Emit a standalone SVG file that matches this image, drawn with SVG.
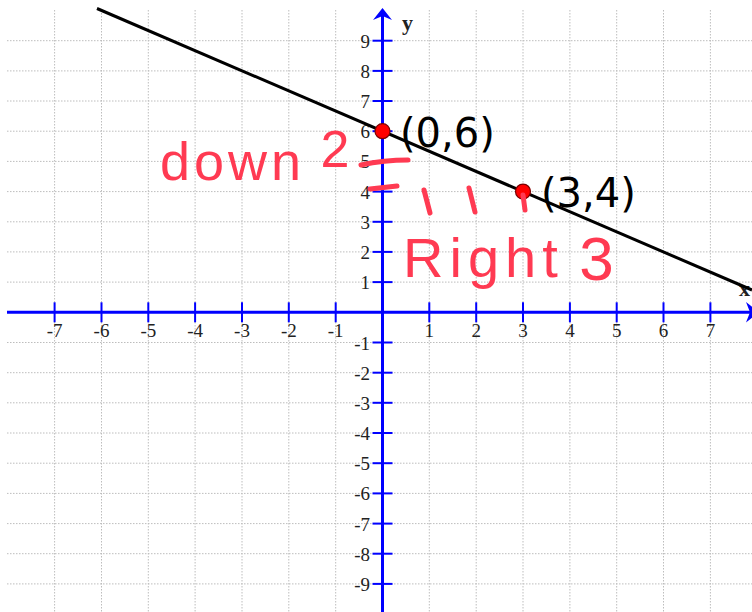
<svg xmlns="http://www.w3.org/2000/svg" width="752" height="612" viewBox="0 0 752 612">
<style>
.grid line{stroke:#bdbdbd;stroke-width:1;stroke-dasharray:1.5 1.5}
.axis{stroke:#0000ff;stroke-width:3;fill:none}
.tick{stroke:#0000ff;stroke-width:2}
.num{font-family:"Liberation Serif",serif;font-size:19px;fill:#222}
.xl{text-anchor:middle}
.yl{text-anchor:end}
.axl{font-family:"Liberation Serif",serif;font-size:22px;font-weight:bold;fill:#222}
.pt{fill:#ff0000;stroke:#7a0000;stroke-width:1.2}
.ptl{font-family:"DejaVu Sans",sans-serif;font-size:40px;fill:#000}
.hand{font-family:"Liberation Sans",sans-serif;fill:#ff3a52}
.mark{stroke:#ff3a52;stroke-width:5;stroke-linecap:round;fill:none}
</style>
<rect width="752" height="612" fill="#fff"/>
<g id="grid" class="grid">
<line x1="54.6" y1="10" x2="54.6" y2="612"/>
<line x1="101.5" y1="10" x2="101.5" y2="612"/>
<line x1="148.3" y1="10" x2="148.3" y2="612"/>
<line x1="195.1" y1="10" x2="195.1" y2="612"/>
<line x1="242" y1="10" x2="242" y2="612"/>
<line x1="288.8" y1="10" x2="288.8" y2="612"/>
<line x1="335.7" y1="10" x2="335.7" y2="612"/>
<line x1="429.3" y1="10" x2="429.3" y2="612"/>
<line x1="476.2" y1="10" x2="476.2" y2="612"/>
<line x1="523" y1="10" x2="523" y2="612"/>
<line x1="569.9" y1="10" x2="569.9" y2="612"/>
<line x1="616.7" y1="10" x2="616.7" y2="612"/>
<line x1="663.5" y1="10" x2="663.5" y2="612"/>
<line x1="710.4" y1="10" x2="710.4" y2="612"/>
<line x1="7" y1="40.7" x2="752" y2="40.7"/>
<line x1="7" y1="70.9" x2="752" y2="70.9"/>
<line x1="7" y1="101" x2="752" y2="101"/>
<line x1="7" y1="131.2" x2="752" y2="131.2"/>
<line x1="7" y1="161.4" x2="752" y2="161.4"/>
<line x1="7" y1="191.6" x2="752" y2="191.6"/>
<line x1="7" y1="221.8" x2="752" y2="221.8"/>
<line x1="7" y1="251.9" x2="752" y2="251.9"/>
<line x1="7" y1="282.1" x2="752" y2="282.1"/>
<line x1="7" y1="342.5" x2="752" y2="342.5"/>
<line x1="7" y1="372.7" x2="752" y2="372.7"/>
<line x1="7" y1="402.8" x2="752" y2="402.8"/>
<line x1="7" y1="433" x2="752" y2="433"/>
<line x1="7" y1="463.2" x2="752" y2="463.2"/>
<line x1="7" y1="493.4" x2="752" y2="493.4"/>
<line x1="7" y1="523.6" x2="752" y2="523.6"/>
<line x1="7" y1="553.7" x2="752" y2="553.7"/>
<line x1="7" y1="583.9" x2="752" y2="583.9"/>
</g>
<g id="axes">
<line class="axis" x1="7" y1="312.3" x2="750" y2="312.3"/>
<path d="M759,312.3 L746,302 L750,312.3 L746,322.6 Z" fill="#0000ff"/>
<line class="axis" x1="382.5" y1="612" x2="382.5" y2="16"/>
<path d="M382.5,8 L392,20 L382.5,16 L373,20 Z" fill="#0000ff"/>
<g class="tick">
<line x1="54.6" y1="302.3" x2="54.6" y2="322.3"/>
<line x1="101.5" y1="302.3" x2="101.5" y2="322.3"/>
<line x1="148.3" y1="302.3" x2="148.3" y2="322.3"/>
<line x1="195.1" y1="302.3" x2="195.1" y2="322.3"/>
<line x1="242" y1="302.3" x2="242" y2="322.3"/>
<line x1="288.8" y1="302.3" x2="288.8" y2="322.3"/>
<line x1="335.7" y1="302.3" x2="335.7" y2="322.3"/>
<line x1="429.3" y1="302.3" x2="429.3" y2="322.3"/>
<line x1="476.2" y1="302.3" x2="476.2" y2="322.3"/>
<line x1="523" y1="302.3" x2="523" y2="322.3"/>
<line x1="569.9" y1="302.3" x2="569.9" y2="322.3"/>
<line x1="616.7" y1="302.3" x2="616.7" y2="322.3"/>
<line x1="663.5" y1="302.3" x2="663.5" y2="322.3"/>
<line x1="710.4" y1="302.3" x2="710.4" y2="322.3"/>
<line x1="372.5" y1="40.7" x2="392.5" y2="40.7"/>
<line x1="372.5" y1="70.9" x2="392.5" y2="70.9"/>
<line x1="372.5" y1="101" x2="392.5" y2="101"/>
<line x1="372.5" y1="131.2" x2="392.5" y2="131.2"/>
<line x1="372.5" y1="161.4" x2="392.5" y2="161.4"/>
<line x1="372.5" y1="191.6" x2="392.5" y2="191.6"/>
<line x1="372.5" y1="221.8" x2="392.5" y2="221.8"/>
<line x1="372.5" y1="251.9" x2="392.5" y2="251.9"/>
<line x1="372.5" y1="282.1" x2="392.5" y2="282.1"/>
<line x1="372.5" y1="342.5" x2="392.5" y2="342.5"/>
<line x1="372.5" y1="372.7" x2="392.5" y2="372.7"/>
<line x1="372.5" y1="402.8" x2="392.5" y2="402.8"/>
<line x1="372.5" y1="433" x2="392.5" y2="433"/>
<line x1="372.5" y1="463.2" x2="392.5" y2="463.2"/>
<line x1="372.5" y1="493.4" x2="392.5" y2="493.4"/>
<line x1="372.5" y1="523.6" x2="392.5" y2="523.6"/>
<line x1="372.5" y1="553.7" x2="392.5" y2="553.7"/>
<line x1="372.5" y1="583.9" x2="392.5" y2="583.9"/>
</g>
<text class="axl" x="402" y="30">y</text>
<text class="axl" x="739" y="296">x</text>
</g>
<g id="x-labels" class="num xl">
<text x="54.6" y="336.5">-7</text>
<text x="101.5" y="336.5">-6</text>
<text x="148.3" y="336.5">-5</text>
<text x="195.1" y="336.5">-4</text>
<text x="242" y="336.5">-3</text>
<text x="288.8" y="336.5">-2</text>
<text x="335.7" y="336.5">-1</text>
<text x="429.3" y="336.5">1</text>
<text x="476.2" y="336.5">2</text>
<text x="523" y="336.5">3</text>
<text x="569.9" y="336.5">4</text>
<text x="616.7" y="336.5">5</text>
<text x="663.5" y="336.5">6</text>
<text x="710.4" y="336.5">7</text>
</g>
<g id="y-labels" class="num yl">
<text x="370" y="47.7">9</text>
<text x="370" y="77.9">8</text>
<text x="370" y="108">7</text>
<text x="370" y="138.2">6</text>
<text x="370" y="168.4">5</text>
<text x="370" y="198.6">4</text>
<text x="370" y="228.8">3</text>
<text x="370" y="258.9">2</text>
<text x="370" y="289.1">1</text>
<text x="370" y="349.5">-1</text>
<text x="370" y="379.7">-2</text>
<text x="370" y="409.8">-3</text>
<text x="370" y="440">-4</text>
<text x="370" y="470.2">-5</text>
<text x="370" y="500.4">-6</text>
<text x="370" y="530.6">-7</text>
<text x="370" y="560.7">-8</text>
<text x="370" y="590.9">-9</text>
</g>
<g id="connectors">
<line x1="97" y1="8.5" x2="752" y2="290" stroke="#000" stroke-width="3"/>
</g>
<g id="point-0-6">
<circle class="pt" cx="382.5" cy="131.2" r="7.5"/>
<text class="ptl" x="400" y="147">(0,6)</text>
</g>
<g id="point-3-4">
<circle class="pt" cx="523" cy="191.6" r="7.5"/>
<text class="ptl" x="541" y="207">(3,4)</text>
</g>
<g id="annotations">
<path class="mark" d="M361,165 Q384,160 408,160"/>
<path class="mark" d="M370,189 L397,186"/>
<path class="mark" d="M424,190 L430,213"/>
<path class="mark" d="M469,188 L475,212"/>
<path class="mark" d="M523,195 L525,210"/>
<text class="hand" x="160" y="180" font-size="54" letter-spacing="4">down<tspan x="306" y="167" font-size="52" letter-spacing="0"> 2</tspan></text>
<text class="hand" x="403" y="277" font-size="56" letter-spacing="6">Right<tspan x="562" y="280" font-size="62" letter-spacing="0"> 3</tspan></text>
</g>
</svg>
